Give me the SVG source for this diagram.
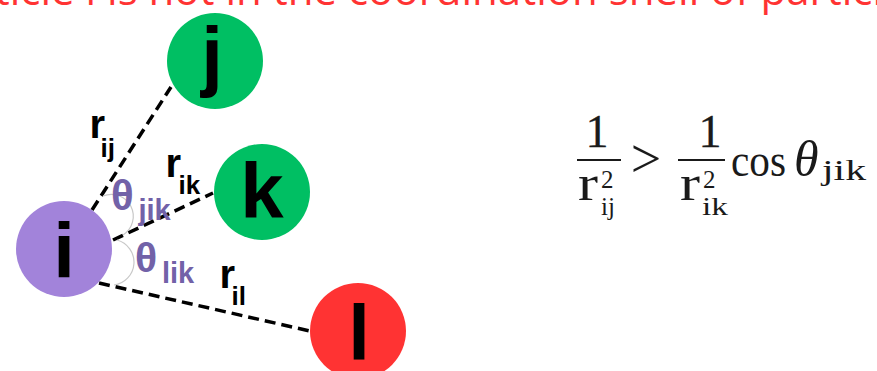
<svg xmlns="http://www.w3.org/2000/svg" width="877" height="371" viewBox="0 0 877 371">
  <style>
    .title { font-family: "Open Sans", "Liberation Sans", sans-serif; font-size: 42px; fill: #FF3333; }
    .node-label { font-family: "Liberation Sans", Arial, sans-serif; font-weight: bold; font-size: 78px; fill: #000; text-anchor: middle; }
    .bond { stroke: #000; stroke-width: 3.5; stroke-dasharray: 11 6; fill: none; }
    .arc { stroke: #C8C8C8; stroke-width: 1.2; fill: none; }
    .lbl { font-family: "Liberation Sans", Arial, sans-serif; font-weight: bold; fill: #000; }
    .ang { font-family: "Liberation Sans", Arial, sans-serif; font-weight: bold; fill: #7262A8; }
    .math { font-family: "Liberation Serif", "Times New Roman", serif; fill: #1a1a1a; }
    .heavy { stroke: #1a1a1a; stroke-width: 0.3; }
    .bar { stroke: #1a1a1a; stroke-width: 2.2; }
  </style>

  <!-- caption, running off the top edge -->
  <text class="title" x="-71" y="5">Particle l is not in the coordination shell of particle i</text>

  <!-- dashed bonds from particle i -->
  <g id="connectors">
    <line class="bond" x1="92" y1="210" x2="171" y2="87"/>
    <line class="bond" x1="113" y1="240" x2="213" y2="193"/>
    <line class="bond" x1="99" y1="283" x2="310" y2="331"/>
    <path class="arc" d="M103,196 A22,22 0 0 1 123,235"/>
    <path class="arc" d="M117,240 A23,23 0 0 1 114,285"/>
  </g>

  <g id="node-j">
    <circle cx="215" cy="61" r="48" fill="#00BF63"/>
    <text class="node-label" x="212" y="82">j</text>
  </g>
  <g id="node-k">
    <circle cx="262" cy="192" r="48" fill="#00BF63"/>
    <text class="node-label" x="262" y="218">k</text>
  </g>
  <g id="node-i">
    <circle cx="64" cy="249" r="48" fill="#A283DA"/>
    <text class="node-label" x="64" y="278">i</text>
  </g>
  <g id="node-l">
    <circle cx="358" cy="331" r="48" fill="#FF3333"/>
    <text class="node-label" x="359" y="360">l</text>
  </g>

  <!-- distance and angle labels -->
  <g id="labels">
    <text class="lbl" x="89.5" y="138" font-size="40">r</text>
    <text class="lbl" x="100.5" y="157" font-size="26">ij</text>
    <text class="lbl" x="165.5" y="177" font-size="40">r</text>
    <text class="lbl" x="178.5" y="194" font-size="26">ik</text>
    <text class="lbl" x="219.5" y="288" font-size="40">r</text>
    <text class="lbl" x="231.5" y="305" font-size="26">il</text>

    <text class="ang" x="111" y="210" font-size="42">θ</text>
    <text class="ang" x="138.5" y="220" font-size="29">jik</text>
    <text class="ang" x="135" y="272" font-size="41">θ</text>
    <text class="ang" x="162" y="283" font-size="29">lik</text>
  </g>

  <!-- criterion: 1/r_ij^2 > cos(theta_jik)/r_ik^2 -->
  <g id="formula">
    <text class="math heavy" x="597" y="147" font-size="46" text-anchor="middle">1</text>
    <line class="bar" x1="577" y1="160" x2="621" y2="160"/>
    <text class="math" x="578" y="200" font-size="50" textLength="20" lengthAdjust="spacingAndGlyphs">r</text>
    <text class="math" x="601" y="188" font-size="25">2</text>
    <text class="math" x="601" y="215" font-size="25">ij</text>

    <text class="math" x="646" y="177" font-size="54" text-anchor="middle">&gt;</text>

    <text class="math heavy" x="710" y="147" font-size="46" text-anchor="middle">1</text>
    <line class="bar" x1="678" y1="160" x2="725" y2="160"/>
    <text class="math" x="680" y="200" font-size="50" textLength="20" lengthAdjust="spacingAndGlyphs">r</text>
    <text class="math" x="703" y="188" font-size="25">2</text>
    <text class="math" x="702" y="215" font-size="26" textLength="26" lengthAdjust="spacingAndGlyphs">ik</text>

    <text class="math" x="731" y="176" font-size="46" textLength="55" lengthAdjust="spacingAndGlyphs">cos</text>
    <text class="math" x="794" y="176" font-size="50" font-style="italic">θ</text>
    <text class="math" x="822" y="180" font-size="30" textLength="44" lengthAdjust="spacingAndGlyphs">jik</text>
  </g>
</svg>
